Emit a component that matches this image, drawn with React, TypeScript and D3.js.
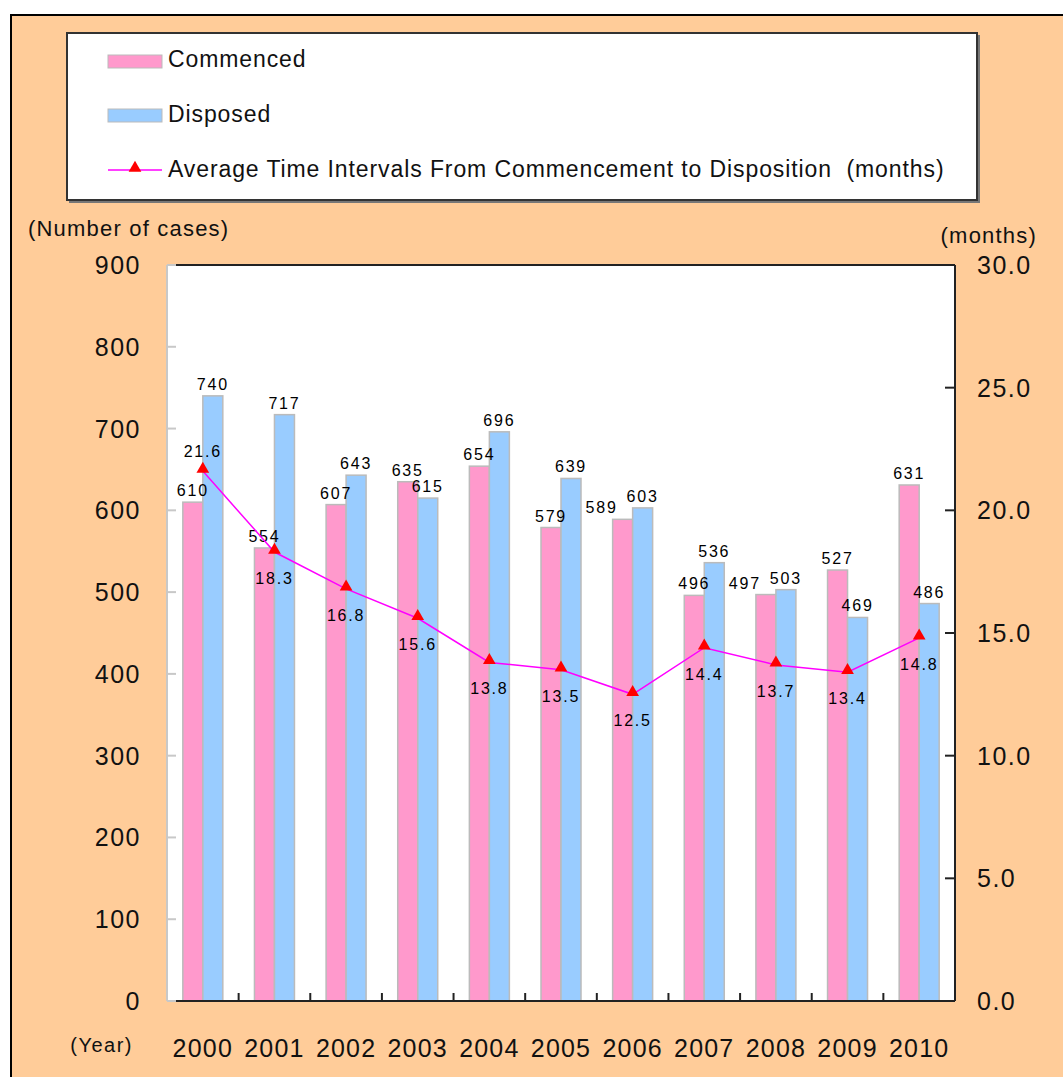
import React from "react";
import * as d3 from "d3";

const years = ["2000","2001","2002","2003","2004","2005","2006","2007","2008","2009","2010"];
const commenced = [610,554,607,635,654,579,589,496,497,527,631];
const disposed = [740,717,643,615,696,639,603,536,503,469,486];
const months = [21.6,18.3,16.8,15.6,13.8,13.5,12.5,14.4,13.7,13.4,14.8];
const leftTicks = [0,100,200,300,400,500,600,700,800,900];
const rightTicks = [0,5,10,15,20,25,30];
const legendLabels = ["Commenced","Disposed","Average Time Intervals From Commencement to Disposition  (months)"];

const W = 1063, H = 1077;
const PL = 167, PR = 955, PT = 265, PB = 1001;
const FONT = "'Liberation Sans', Arial, sans-serif";
const PINK = "#FF99CC", BLUE = "#99CCFF", BG = "#FFCC99";

export default function App() {
  const x = d3.scaleBand().domain(years).range([PL, PR]).paddingInner(0).paddingOuter(0);
  const yL = d3.scaleLinear().domain([0, 900]).range([PB, PT]);
  const yR = d3.scaleLinear().domain([0, 30]).range([PB, PT]);
  const bw = 20;
  const labW = 33;
  const line = d3.line<number>().x((_, i) => x(years[i])! + x.bandwidth() / 2).y(d => yR(d));
  const tri = d3.symbol().type(d3.symbolTriangle).size(70)();

  return (
    <svg width={W} height={H} style={{ position: "absolute", left: 0, top: 0, fontFamily: FONT }}>
      <rect x={0} y={0} width={W} height={H} fill="#fff" />
      <rect x={11} y={15} width={W + 10} height={H + 10} fill={BG} stroke="#000" strokeWidth={2} />
      {/* legend */}
      <rect x={69} y={35} width={911} height={168} fill="#777" />
      <rect x={67} y={33} width={910} height={167} fill="#fff" stroke="#333" strokeWidth={2} />
      <rect x={108} y={55} width={54} height={13} fill={PINK} stroke="#bbb" strokeWidth={1} />
      <rect x={108} y={109} width={54} height={13} fill={BLUE} stroke="#bbb" strokeWidth={1} />
      <line x1={108} x2={162} y1={170} y2={170} stroke="#FF00FF" strokeWidth={1.5} />
      <path d={tri} transform="translate(135,168)" fill="#FF0000" />
      {legendLabels.map((t, i) => (
        <text key={t} x={168} y={67 + i * 55} fontSize={23} letterSpacing={0.9} fill="#111" xmlSpace="preserve">{t}</text>
      ))}
      {/* axis titles */}
      <text x={28} y={236} fontSize={22} letterSpacing={1.2} fill="#111">(Number of cases)</text>
      <text x={1037} y={243} fontSize={22} letterSpacing={1.2} fill="#111" textAnchor="end">(months)</text>
      <text x={133} y={1052} fontSize={20} letterSpacing={1.5} fill="#111" textAnchor="end">(Year)</text>
      {/* plot area */}
      <rect x={PL} y={PT} width={PR - PL} height={PB - PT} fill="#fff" />
      {/* bars */}
      {years.map((yv, i) => {
        const cx = x(yv)! + x.bandwidth() / 2;
        const yc = yL(commenced[i]) - 6;
        const yd = yL(disposed[i]) - 6;
        const dx = cx + bw / 2;
        let cxl = cx - bw / 2;
        if (Math.abs(yc - yd) < 13 && cxl + labW / 2 > dx - labW / 2 - 8) {
          cxl = dx - labW - 8;
        }
        return (
          <g key={yv}>
            <rect x={cx - bw} y={yL(commenced[i])} width={bw} height={PB - yL(commenced[i])} fill={PINK} stroke="#bbb" strokeWidth={1.5} />
            <rect x={cx} y={yL(disposed[i])} width={bw} height={PB - yL(disposed[i])} fill={BLUE} stroke="#bbb" strokeWidth={1.5} />
            <text x={cxl} y={yc} fontSize={16} textAnchor="middle" letterSpacing={1.8} fill="#000">{commenced[i]}</text>
            <text x={dx} y={yd} fontSize={16} textAnchor="middle" letterSpacing={1.8} fill="#000">{disposed[i]}</text>
          </g>
        );
      })}
      {/* axes */}
      <line x1={PL} x2={PL} y1={PT} y2={PB} stroke="#c8c8c8" strokeWidth={2} />
      <line x1={PL} x2={PR} y1={PT} y2={PT} stroke="#222" strokeWidth={2} />
      <line x1={PR} x2={PR} y1={PT} y2={PB} stroke="#222" strokeWidth={2} />
      <line x1={PL} x2={PR} y1={PB} y2={PB} stroke="#222" strokeWidth={2} />
      {leftTicks.map(t => (
        <g key={"l" + t}>
          <line x1={PL} x2={PL + 9} y1={yL(t)} y2={yL(t)} stroke="#c8c8c8" strokeWidth={2} />
          <text x={141} y={yL(t) + 9} fontSize={25} letterSpacing={1.5} textAnchor="end" fill="#111">{t}</text>
        </g>
      ))}
      {rightTicks.map(t => (
        <g key={"r" + t}>
          <line x1={PR - 10} x2={PR} y1={yR(t)} y2={yR(t)} stroke="#222" strokeWidth={2} />
          <text x={977} y={yR(t) + 9} fontSize={25} letterSpacing={1.5} fill="#111">{t.toFixed(1)}</text>
        </g>
      ))}
      {years.map((yv, i) => (
        <g key={"x" + yv}>
          {i > 0 && <line x1={x(yv)!} x2={x(yv)!} y1={PB - 8} y2={PB} stroke="#222" strokeWidth={2} />}
          <text x={x(yv)! + x.bandwidth() / 2} y={1057} fontSize={25} letterSpacing={1.2} textAnchor="middle" fill="#111">{yv}</text>
        </g>
      ))}
      {/* line */}
      <path d={line(months)!} fill="none" stroke="#FF00FF" strokeWidth={1.5} />
      {months.map((m, i) => {
        const cx = x(years[i])! + x.bandwidth() / 2;
        const cy = yR(m);
        return (
          <g key={"m" + i}>
            <path d={tri} transform={`translate(${cx},${cy - 2})`} fill="#FF0000" />
            <text x={cx} y={i === 0 ? cy - 14 : cy + 32} fontSize={16} textAnchor="middle" letterSpacing={1.8} fill="#000">{m.toFixed(1)}</text>
          </g>
        );
      })}
    </svg>
  );
}
